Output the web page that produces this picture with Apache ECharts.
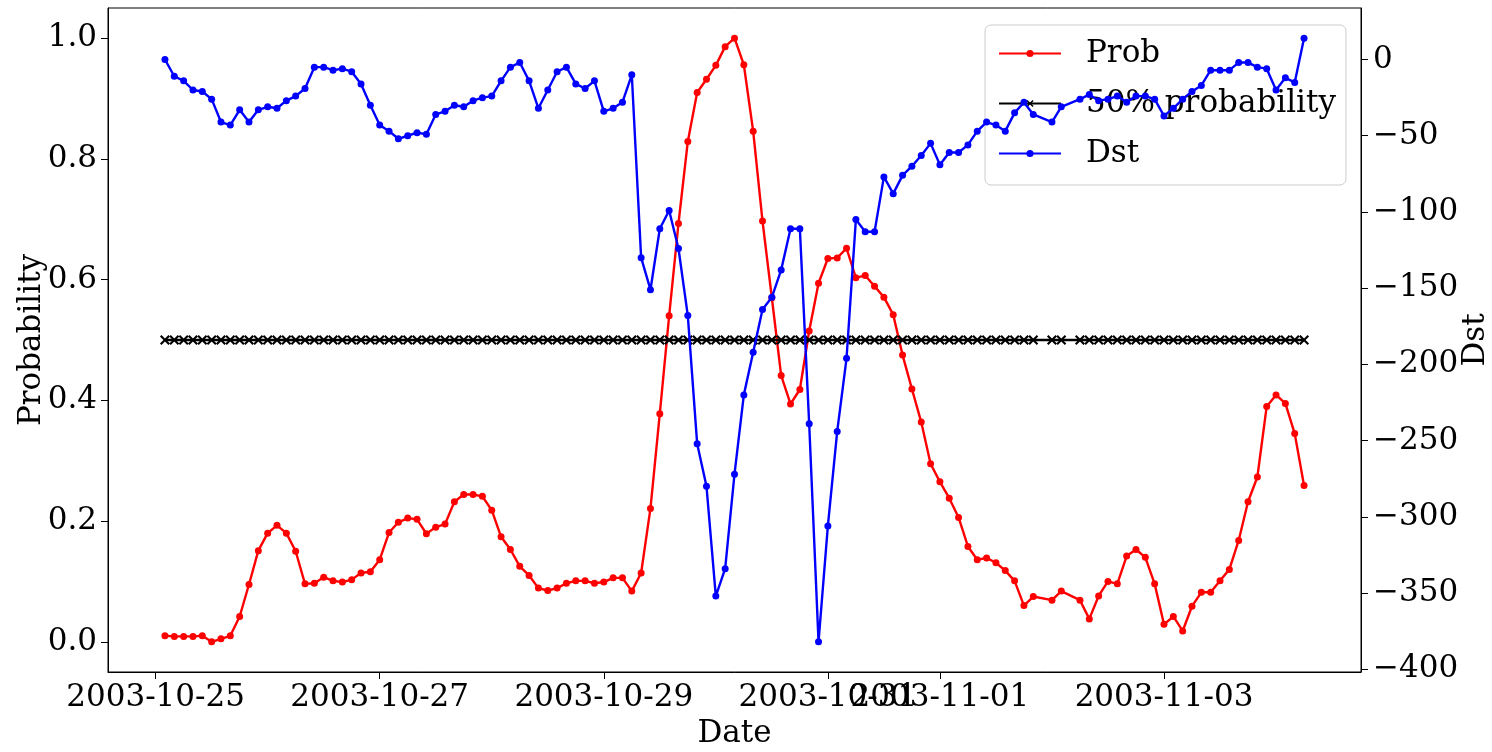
<!DOCTYPE html>
<html><head><meta charset="utf-8">
<script src="https://cdn.jsdelivr.net/npm/echarts@6/dist/echarts.min.js"></script>
<style>html,body{margin:0;padding:0;background:#fff}#c{width:1492px;height:752px}</style>
</head><body><div id="c"></div><script>
const times = [
'2003-10-25 02','2003-10-25 04','2003-10-25 06','2003-10-25 08','2003-10-25 10','2003-10-25 12','2003-10-25 14','2003-10-25 16','2003-10-25 18','2003-10-25 20','2003-10-25 22',
'2003-10-26 00','2003-10-26 02','2003-10-26 04','2003-10-26 06','2003-10-26 08','2003-10-26 10','2003-10-26 12','2003-10-26 14','2003-10-26 16','2003-10-26 18','2003-10-26 20','2003-10-26 22',
'2003-10-27 00','2003-10-27 02','2003-10-27 04','2003-10-27 06','2003-10-27 08','2003-10-27 10','2003-10-27 12','2003-10-27 14','2003-10-27 16','2003-10-27 18','2003-10-27 20','2003-10-27 22',
'2003-10-28 00','2003-10-28 02','2003-10-28 04','2003-10-28 06','2003-10-28 08','2003-10-28 10','2003-10-28 12','2003-10-28 14','2003-10-28 16','2003-10-28 18','2003-10-28 20','2003-10-28 22',
'2003-10-29 00','2003-10-29 02','2003-10-29 04','2003-10-29 06','2003-10-29 08','2003-10-29 10','2003-10-29 12','2003-10-29 14','2003-10-29 16','2003-10-29 18','2003-10-29 20','2003-10-29 22',
'2003-10-30 00','2003-10-30 02','2003-10-30 04','2003-10-30 06','2003-10-30 08','2003-10-30 10','2003-10-30 12','2003-10-30 14','2003-10-30 16','2003-10-30 18','2003-10-30 20','2003-10-30 22',
'2003-10-31 00','2003-10-31 02','2003-10-31 04','2003-10-31 06','2003-10-31 08','2003-10-31 10','2003-10-31 12','2003-10-31 14','2003-10-31 16','2003-10-31 18','2003-10-31 20','2003-10-31 22',
'2003-11-01 00','2003-11-01 02','2003-11-01 04','2003-11-01 06','2003-11-01 08','2003-11-01 10','2003-11-01 12','2003-11-01 14','2003-11-01 16','2003-11-01 18','2003-11-01 20',
'2003-11-02 00','2003-11-02 02','2003-11-02 06','2003-11-02 08','2003-11-02 10','2003-11-02 12','2003-11-02 14','2003-11-02 16','2003-11-02 18','2003-11-02 20','2003-11-02 22',
'2003-11-03 00','2003-11-03 02','2003-11-03 04','2003-11-03 06','2003-11-03 08','2003-11-03 10','2003-11-03 12','2003-11-03 14','2003-11-03 16','2003-11-03 18','2003-11-03 20','2003-11-03 22',
'2003-11-04 00','2003-11-04 02','2003-11-04 04','2003-11-04 06'
];
const prob = [
0.010,0.009,0.009,0.009,0.010,0.000,0.005,0.010,0.042,0.095,0.151,
0.180,0.193,0.180,0.150,0.096,0.097,0.107,0.101,0.099,0.103,0.114,0.116,
0.136,0.181,0.198,0.205,0.203,0.179,0.190,0.195,0.232,0.244,0.244,0.241,
0.218,0.174,0.153,0.125,0.110,0.089,0.085,0.089,0.097,0.101,0.101,0.097,
0.099,0.106,0.106,0.084,0.114,0.221,0.378,0.540,0.693,0.829,0.910,0.932,
0.955,0.986,1.000,0.956,0.846,0.697,0.570,0.441,0.394,0.418,0.515,0.594,
0.635,0.636,0.652,0.603,0.607,0.589,0.571,0.542,0.475,0.419,0.364,0.295,
0.265,0.238,0.206,0.158,0.136,0.139,0.131,0.118,0.101,0.060,0.075,
0.069,0.084,0.069,0.038,0.076,0.100,0.096,0.142,0.153,0.140,0.096,
0.029,0.042,0.018,0.059,0.082,0.082,0.101,0.120,0.168,0.232,0.273,0.390,
0.409,0.395,0.345,0.259
];
const dst = [
0,-11,-14,-20,-21,-26,-41,-43,-33,-41,-33,
-31,-32,-27,-24,-19,-5,-5,-7,-6,-8,-16,-30,
-43,-47,-52,-50,-48,-49,-36,-34,-30,-31,-27,-25,
-24,-14,-5,-2,-14,-32,-20,-8,-5,-16,-19,-14,
-34,-32,-28,-10,-130,-151,-111,-99,-124,-168,-252,-280,
-352,-334,-272,-220,-192,-164,-156,-138,-111,-111,-239,-382,
-306,-244,-196,-105,-113,-113,-77,-88,-76,-70,-63,-55,
-69,-61,-61,-56,-47,-41,-43,-47,-35,-28,-36,
-41,-31,-26,-23,-27,-26,-24,-28,-24,-24,-26,
-37,-32,-26,-21,-17,-7,-7,-7,-2,-2,-5,-6,
-20,-12,-15,14
];
const threshold = 0.5;
const xTickLabels = ['2003-10-25','2003-10-27','2003-10-29','2003-10-31','2003-11-01','2003-11-03'];
const probTicks = [0.0,0.2,0.4,0.6,0.8,1.0];
const dstTicks = [-400,-350,-300,-250,-200,-150,-100,-50,0];

function parseT(s){const p=s.split(/[- ]/).map(Number);return Date.UTC(p[0],p[1]-1,p[2],p[3]||0);}
function pad2(n){return (n<10?'0':'')+n;}
function fmtDate(v){const d=new Date(Math.round(v));return d.getUTCFullYear()+'-'+pad2(d.getUTCMonth()+1)+'-'+pad2(d.getUTCDate());}
function margins(arr){const mn=Math.min(...arr),mx=Math.max(...arr),p=0.05*(mx-mn);return [mn-p,mx+p];}

const tms = times.map(parseT);
const xr = margins(tms), pr = margins(prob.concat([threshold])), dr = margins(dst);
const xTicks = xTickLabels.map(parseT);
const FONT = 'DejaVu Serif';
const FS = 31;
const xMarker = 'path://M0,1.5 L1.5,0 L5,3.5 L8.5,0 L10,1.5 L6.5,5 L10,8.5 L8.5,10 L5,6.5 L1.5,10 L0,8.5 L3.5,5 Z';

const chart = echarts.init(document.getElementById('c'), null, {renderer:'canvas'});
chart.setOption({
  animation:false,
  backgroundColor:'#ffffff',
  textStyle:{fontFamily:FONT},
  grid:{left:108,right:131,top:8,bottom:80,outerBoundsMode:'none',containLabel:false,show:true,borderColor:'#000',borderWidth:1,backgroundColor:'transparent'},
  legend:{
    left:985, top:25, orient:'vertical', z:3,
    backgroundColor:'rgba(255,255,255,0.8)', borderColor:'#cccccc', borderWidth:1, borderRadius:6,
    padding:[13,10,16,13], itemWidth:62, itemHeight:9, itemGap:19,
    textStyle:{fontFamily:FONT,fontSize:FS,color:'#000',lineHeight:31,padding:[0,0,0,20]},
    data:['Prob','50% probability','Dst']
  },
  xAxis:{
    type:'value', min:xr[0], max:xr[1],
    name:'Date', nameLocation:'middle', nameGap:46, nameMoveOverlap:false,
    nameTextStyle:{fontFamily:FONT,fontSize:FS,color:'#000'},
    axisLine:{show:true,onZero:false,lineStyle:{color:'#000',width:1}},
    axisTick:{show:true,length:7,lineStyle:{color:'#000',width:1},customValues:xTicks},
    axisLabel:{show:true,margin:10,fontFamily:FONT,fontSize:FS,color:'#000',customValues:xTicks,formatter:fmtDate,hideOverlap:false},
    splitLine:{show:false}
  },
  yAxis:[{
    type:'value', min:pr[0], max:pr[1], position:'left',
    name:'Probability', nameLocation:'middle', nameGap:61, nameRotate:90, nameMoveOverlap:false,
    nameTextStyle:{fontFamily:FONT,fontSize:FS,color:'#000'},
    axisLine:{show:true,onZero:false,lineStyle:{color:'#000',width:1}},
    axisTick:{show:true,length:7,lineStyle:{color:'#000',width:1},customValues:probTicks},
    axisLabel:{show:true,margin:11,fontFamily:FONT,fontSize:FS,color:'#000',customValues:probTicks,formatter:v=>Number(v).toFixed(1)},
    splitLine:{show:false}
  },{
    type:'value', min:dr[0], max:dr[1], position:'right',
    name:'Dst', nameLocation:'middle', nameGap:99, nameRotate:90, nameMoveOverlap:false,
    nameTextStyle:{fontFamily:FONT,fontSize:FS,color:'#000'},
    axisLine:{show:true,onZero:false,lineStyle:{color:'#000',width:1}},
    axisTick:{show:true,length:7,lineStyle:{color:'#000',width:1},customValues:dstTicks},
    axisLabel:{show:true,margin:12,fontFamily:FONT,fontSize:FS,color:'#000',customValues:dstTicks,formatter:v=>v<0?'\u2212'+Math.abs(v):String(v)},
    splitLine:{show:false}
  }],
  series:[{
    name:'Prob', type:'line', yAxisIndex:0, z:2,
    data:tms.map((t,i)=>[t,prob[i]]),
    symbol:'circle', symbolSize:7, showSymbol:true, showAllSymbol:true,
    lineStyle:{color:'#ff0000',width:2.4}, itemStyle:{color:'#ff0000'}
  },{
    name:'50% probability', type:'line', yAxisIndex:0, z:2,
    data:tms.map(t=>[t,threshold]),
    symbol:xMarker, symbolSize:10, showSymbol:true, showAllSymbol:true,
    lineStyle:{color:'#000000',width:2.4}, itemStyle:{color:'#000000'}
  },{
    name:'Dst', type:'line', yAxisIndex:1, z:4,
    data:tms.map((t,i)=>[t,dst[i]]),
    symbol:'circle', symbolSize:7, showSymbol:true, showAllSymbol:true,
    lineStyle:{color:'#0000ff',width:2.4}, itemStyle:{color:'#0000ff'}
  }]
});
</script></body></html>
